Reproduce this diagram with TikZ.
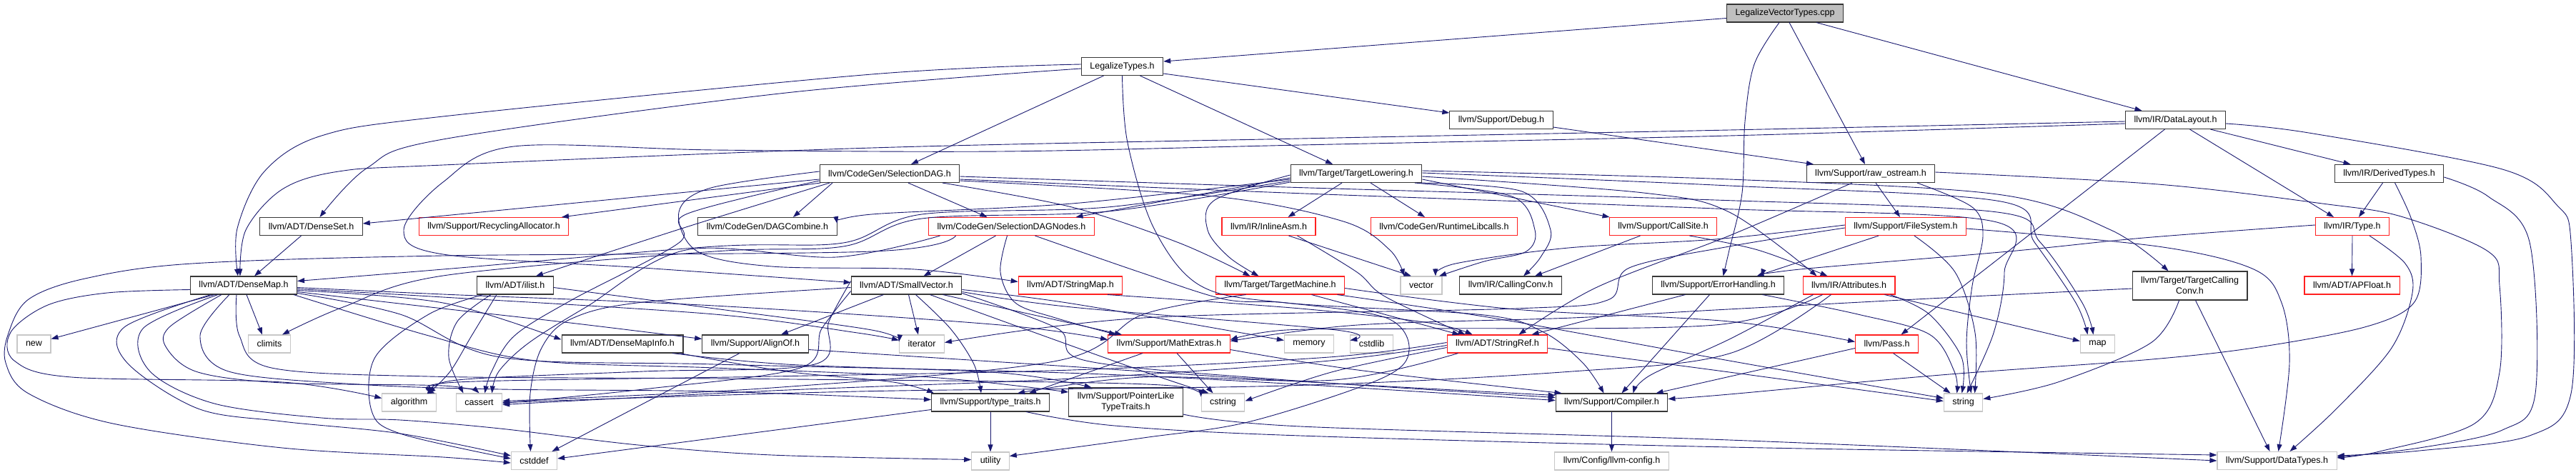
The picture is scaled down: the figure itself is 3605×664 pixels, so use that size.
\documentclass[tikz,border=0pt]{standalone}
\usepackage{fontspec}
\setmainfont{Liberation Sans}
\usetikzlibrary{arrows.meta}
\definecolor{edgeblue}{HTML}{191970}
\definecolor{nodered}{HTML}{FF2020}
\newcommand\fsz{\fontsize{12.5}{15}\selectfont}
\newcommand\cnx[1]{\draw[e] plot[smooth,tension=0.55] coordinates {#1};}
\tikzset{
 nd/.style={draw, rectangle, line width=1.1pt, minimum height=25pt, inner xsep=12pt, inner ysep=0pt, font=\fsz, anchor=center},
 blk/.style={nd, draw=black!78},
 rd/.style={nd, draw=nodered},
 sys/.style={nd, draw=black!22},
 cur/.style={nd, draw=black!80, fill=black!25},
 two/.style={align=center, minimum height=40pt},
 e/.style={draw=edgeblue, line width=0.9pt, -{Triangle[length=10pt,width=7pt]}},
}
\begin{document}
\begin{tikzpicture}[x=1pt,y=-1pt]
\fill[white] (0,0) rectangle (3605,664);
\useasboundingbox (0,0) rectangle (3605,664);
% nodes
\node[cur] (lvt) at (2498,18.5) {LegalizeVectorTypes.cpp};
\node[blk] (lt) at (1570.5,93) {LegalizeTypes.h};
\node[blk] (debug) at (2101,168) {llvm/Support/Debug.h};
\node[blk] (dl) at (3044.5,168) {llvm/IR/DataLayout.h};
\node[blk] (sdag) at (1245,243) {llvm/CodeGen/SelectionDAG.h};
\node[blk] (tl) at (1898,243) {llvm/Target/TargetLowering.h};
\node[blk] (ros) at (2618,243) {llvm/Support/raw\_ostream.h};
\node[blk] (dt) at (3343.5,243) {llvm/IR/DerivedTypes.h};
\node[blk] (dset) at (435.5,317) {llvm/ADT/DenseSet.h};
\node[rd] (ra) at (691,317) {llvm/Support/RecyclingAllocator.h};
\node[blk] (dagc) at (1074,317) {llvm/CodeGen/DAGCombine.h};
\node[rd] (sdn) at (1415.5,317) {llvm/CodeGen/SelectionDAGNodes.h};
\node[rd] (ia) at (1775.5,317) {llvm/IR/InlineAsm.h};
\node[rd] (rtl) at (2021,317) {llvm/CodeGen/RuntimeLibcalls.h};
\node[rd] (cs) at (2327.5,317) {llvm/Support/CallSite.h};
\node[rd] (fs) at (2667,317) {llvm/Support/FileSystem.h};
\node[rd] (type) at (3292,317) {llvm/IR/Type.h};
\node[blk] (dmap) at (341,399.5) {llvm/ADT/DenseMap.h};
\node[blk] (ilist) at (721,399.5) {llvm/ADT/ilist.h};
\node[blk] (sv) at (1268.5,399.5) {llvm/ADT/SmallVector.h};
\node[rd] (smap) at (1498,399.5) {llvm/ADT/StringMap.h};
\node[rd] (tm) at (1791.5,399.5) {llvm/Target/TargetMachine.h};
\node[sys] (vector) at (1989,399.5) {vector};
\node[blk] (cc) at (2114,399.5) {llvm/IR/CallingConv.h};
\node[blk] (eh) at (2404.5,399.5) {llvm/Support/ErrorHandling.h};
\node[rd] (attr) at (2587.5,399.5) {llvm/IR/Attributes.h};
\node[blk,two] (tcc) at (3064.5,400) {llvm/Target/TargetCalling\\Conv.h};
\node[rd] (apf) at (3291.5,399.5) {llvm/ADT/APFloat.h};
\node[sys] (new) at (47.5,481.5) {new};
\node[sys] (climits) at (377,481.5) {climits};
\node[blk] (dmi) at (871,481.5) {llvm/ADT/DenseMapInfo.h};
\node[blk] (align) at (1057,481.5) {llvm/Support/AlignOf.h};
\node[sys] (iterator) at (1290,481.5) {iterator};
\node[rd] (me) at (1636,481.5) {llvm/Support/MathExtras.h};
\node[sys] (memory) at (1832,481.5) {memory};
\node[sys] (cstdlib) at (1919.5,481.5) {cstdlib};
\node[rd] (sref) at (2095.5,481.5) {llvm/ADT/StringRef.h};
\node[rd] (pass) at (2640.5,481.5) {llvm/Pass.h};
\node[sys] (map) at (2935.5,481.5) {map};
\node[sys] (algorithm) at (572.5,563.5) {algorithm};
\node[sys] (cassert) at (670.5,563.5) {cassert};
\node[blk] (tt) at (1386,563.5) {llvm/Support/type\_traits.h};
\node[blk,two] (pltt) at (1575.5,563) {llvm/Support/PointerLike\\TypeTraits.h};
\node[sys] (cstring) at (1711.5,563.5) {cstring};
\node[blk] (comp) at (2255.5,563.5) {llvm/Support/Compiler.h};
\node[sys] (string) at (2747.5,563.5) {string};
\node[sys] (cstddef) at (747.5,645) {cstddef};
\node[sys] (utility) at (1386,645.5) {utility};
\node[sys] (cfg) at (2255.5,645.5) {llvm/Config/llvm-config.h};
\node[sys] (dtypes) at (3186.5,645) {llvm/Support/DataTypes.h};
% LegalizeVectorTypes.cpp
\draw[e] ([yshift=-7pt]lvt.west) -- ([yshift=7pt]lt.east);
\cnx{([xshift=-8pt]lvt.south) (2455,90) (2442,170) (2438,270) (2420,350) ([xshift=7pt]eh.north)}
\draw[e] ([xshift=6pt]lvt.south) -- ([xshift=-8pt]ros.north);
\draw[e] ([xshift=44pt]lvt.south) -- ([xshift=-47pt]dl.north);
% LegalizeTypes.h
\draw[e] ([xshift=-26pt]lt.south) -- ([xshift=30pt]sdag.north);
\draw[e] ([xshift=25pt]lt.south) -- ([xshift=-33pt]tl.north);
\draw[e] ([yshift=-10pt]lt.east) -- ([yshift=10pt]debug.west);
\cnx{([yshift=-3pt]lt.west) (1100,130) (620,195) (514,235) ([xshift=12pt]dset.north)}
\cnx{([yshift=3pt]lt.west) (1220,104) (620,163) (450,190) (370,240) (332,320) ([xshift=-8pt]dmap.north)}
\cnx{(lt.south) (1578,200) (1615,320) (1680,400) (1800,424) (2077,441) (2160,465) (2215,508) ([xshift=-11pt]comp.north)}
% Debug.h
\draw[e] ([yshift=-10pt]debug.east) -- ([xshift=-80pt]ros.north);
% DataLayout.h
\draw[e] ([xshift=49pt]dl.south) -- ([xshift=-54pt]dt.north);
\draw[e] ([xshift=20pt]dl.south) -- ([xshift=-26pt]type.north);
\draw[e] ([xshift=-15pt]dl.south) -- ([xshift=20pt]pass.north);
\cnx{([yshift=-5pt]dl.east) (3231,186) (3502,237) (3579,288) (3598,339) (3598,551) (3540,610) (3386,631) ([yshift=7pt]dtypes.east)}
\cnx{([yshift=-2pt]dl.west) (2420,182) (1820,194) (1220,207) (620,231) (474,240) (395,265) (344,322) ([xshift=-5pt]dmap.north)}
\cnx{([yshift=-5pt]dl.west) (2420,190) (1820,203) (1400,212) (1000,210) (719,205) (620,255) (565,322) (620,356) (900,375) ([yshift=4pt]sv.west)}
% SelectionDAG.h
\draw[e] ([yshift=-8pt]sdag.west) -- ([yshift=4pt]dset.east);
\draw[e] ([xshift=-97pt]sdag.south) -- ([xshift=95pt]ra.north);
\draw[e] ([xshift=-80pt]sdag.south) -- ([xshift=36pt]dagc.north);
\cnx{([xshift=-84pt]sdag.south) (960,318) ([xshift=29pt]ilist.north)}
\draw[e] ([xshift=26pt]sdag.south) -- ([xshift=-34pt]sdn.north);
\cnx{([xshift=74pt]sdag.south) (1500,290) (1650,340) ([xshift=-42pt]tm.north)}
\cnx{([yshift=3pt]sdag.west) (995,263) (950,297) (976,352) (1080,373) (1280,377) ([yshift=5pt]smap.west)}
\cnx{([yshift=-10pt]sdag.west) (960,300) (950,340) (800,420) (720,470) (688,520) ([xshift=8pt]cassert.north)}
\cnx{([yshift=-4pt]sdag.east) (1800,262) (2400,280) (2795,297) (2855,339) (2914,424) ([xshift=-6pt]map.north)}
\cnx{([yshift=-8pt]sdag.east) (1800,270) (2400,292) (2790,310) (2805,381) (2790,466) ([xshift=5pt]string.north)}
\cnx{([yshift=-10pt]sdag.east) (1700,275) (1880,310) (1945,350) ([xshift=-24pt]vector.north)}
% TargetLowering.h
\draw[e] ([xshift=-20pt]tl.south) -- ([xshift=27pt]ia.north);
\draw[e] ([xshift=20pt]tl.south) -- ([xshift=-27pt]rtl.north);
\draw[e] ([yshift=-8pt]tl.east) -- ([xshift=-75pt]cs.north);
\cnx{([xshift=82pt]tl.south) (2116,275) (2148,322) (2136,352) (2077,366) ([xshift=25pt]vector.north)}
\cnx{([xshift=90pt]tl.south) (2130,268) (2170,322) (2156,360) ([xshift=18pt]cc.north)}
\cnx{([yshift=4pt]tl.east) (2420,251) (2795,272) (2954,322) ([xshift=-30pt]tcc.north)}
\cnx{([yshift=1pt]tl.east) (2420,260) (2800,282) (2847,339) (2905,424) ([xshift=-14pt]map.north)}
\cnx{([yshift=-4pt]tl.east) (2300,270) (2420,297) ([xshift=-45pt]attr.north)}
\cnx{([yshift=-2pt]tl.west) (1700,280) (1690,322) (1720,360) ([xshift=-30pt]tm.north)}
\draw[e] ([yshift=-6pt]tl.west) -- ([xshift=90pt]sdn.north);
\cnx{([yshift=-8pt]tl.west) (1500,285) (1220,300) ([yshift=4pt]dagc.east)}
\cnx{([yshift=-10pt]tl.west) (1550,290) (1290,300) (1180,340) (1000,345) (620,377) ([yshift=6pt]dmap.east)}
\cnx{([yshift=-12pt]tl.west) (1550,296) (1290,306) (1180,345) (1000,352) (620,386) (480,430) ([xshift=18pt]climits.north)}
% raw_ostream.h
\draw[e] ([xshift=7pt]ros.south) -- ([xshift=-8pt]fs.north);
\cnx{([xshift=-26pt]ros.south) (2420,330) (2235,402) ([xshift=30pt]sref.north)}
\cnx{([xshift=65pt]ros.south) (2760,290) (2775,330) (2760,400) (2752,480) ([xshift=11pt]string.north)}
\cnx{([yshift=2pt]ros.east) (3020,258) (3250,285) (3360,303) (3482,352) (3498,400) (3498,521) (3463,593) (3330,632) ([yshift=4pt]dtypes.east)}
% DerivedTypes.h
\draw[e] ([xshift=-9pt]dt.south) -- ([xshift=9pt]type.north);
\cnx{([xshift=8pt]dt.south) (3374,305) (3388,360) (3378,424) (3309,458) (3154,487) (3000,504) (2716,525) (2420,552) ([yshift=5pt]comp.east)}
\cnx{([yshift=-5pt]dt.east) (3482,275) (3540,339) (3548,551) (3502,602) (3386,627) ([yshift=5pt]dtypes.east)}
% Type.h
\draw[e] (type.south) -- (apf.north);
\cnx{([xshift=24pt]type.south) (3366,369) (3376,410) (3347,487) (3270,572) ([xshift=18pt]dtypes.north)}
\cnx{([yshift=2pt]type.west) (3000,333) (2811,352) (2519,377) ([xshift=60pt]eh.north)}
% FileSystem.h
\cnx{([yshift=-3pt]fs.east) (3020,345) (3154,377) (3193,424) (3204,508) ([xshift=2pt]dtypes.north)}
\draw[e] ([xshift=-38pt]fs.south) -- ([xshift=54pt]eh.north);
\cnx{([xshift=12pt]fs.south) (2736,381) (2764,466) ([xshift=16pt]string.north)}
\cnx{([yshift=2pt]fs.west) (2400,335) (2195,347) (2037,369) ([xshift=20pt]vector.north)}
\cnx{([yshift=-2pt]fs.west) (2420,345) (2280,375) (2250,420) (2120,432) (1600,445) ([yshift=2pt]iterator.east)}
% CallSite.h
\draw[e] ([xshift=-32pt]cs.south) -- ([xshift=34pt]cc.north);
\cnx{([xshift=37pt]cs.south) (2460,350) ([xshift=-30pt]attr.north)}
% InlineAsm.h
\draw[e] ([xshift=28pt]ia.south) -- ([xshift=-14pt]vector.north);
\cnx{([xshift=40pt]ia.south) (1899,381) (1938,415) ([xshift=-45pt]sref.north)}
% TargetMachine.h
\draw[e] ([xshift=44pt]tm.south) -- ([xshift=-53pt]sref.north);
\cnx{([xshift=-48pt]tm.south) (1600,440) (1480,505) (1080,543) ([yshift=2pt]cassert.east)}
\cnx{([yshift=-4pt]tm.east) (2120,433) (2420,450) ([yshift=3pt]pass.west)}
\cnx{([xshift=80pt]tm.south) (2100,447) (2420,505) ([yshift=6pt]string.west)}
% StringMap.h
\cnx{([xshift=52pt]smap.south) (1820,432) (2000,452) ([xshift=-35pt]sref.north)}
% SelectionDAGNodes.h
\draw[e] ([xshift=-22pt]sdn.south) -- ([xshift=24pt]sv.north);
\cnx{([xshift=-6pt]sdn.south) (1400,381) (1421,424) (1477,445) ([xshift=-74pt]me.north)}
\cnx{([xshift=33pt]sdn.south) (1595,381) (1714,419) (1800,424) (1940,445) (1972,490) (1933,530) (1750,590) (1600,613) ([yshift=7pt]utility.east)}
\cnx{([xshift=-78pt]sdn.south) (1220,352) (620,358) (269,369) (119,390) (40,419) (12,466) (8,508) (40,551) (158,593) (395,627) (620,640) ([yshift=-3pt]cstddef.west)}
\cnx{([xshift=-100pt]sdn.south) (1170,360) (960,350) (820,430) (740,480) (698,520) ([xshift=18pt]cassert.north)}
% ilist.h
\cnx{([xshift=-26pt]ilist.south) (660,470) (630,520) ([xshift=27pt]algorithm.north)}
\cnx{([xshift=-34pt]ilist.south) (640,450) (628,500) ([xshift=-22pt]cassert.north)}
\cnx{([xshift=-45pt]ilist.south) (600,440) (525,500) (520,575) (560,607) ([yshift=3pt]cstddef.west)}
\cnx{([yshift=-3pt]ilist.east) (1000,432) (1220,462) ([yshift=3pt]iterator.west)}
% SmallVector.h
\draw[e] ([xshift=-32pt]sv.south) -- ([xshift=36pt]align.north);
\draw[e] ([xshift=3pt]sv.south) -- ([xshift=-5pt]iterator.north);
\cnx{([xshift=13pt]sv.south) (1330,460) (1363,510) ([xshift=-13pt]tt.north)}
\draw[e] ([xshift=51pt]sv.south) -- ([xshift=-66pt]me.north);
\cnx{([yshift=-6pt]sv.east) (1500,425) ([yshift=5pt]memory.west)}
\cnx{([yshift=-9pt]sv.east) (1500,430) (1870,462) ([yshift=5pt]cstdlib.west)}
\cnx{([xshift=33pt]sv.south) (1413,453) (1600,520) ([xshift=-20pt]cstring.north)}
\cnx{([yshift=-11pt]sv.east) (1480,460) (1520,505) (1800,532) ([yshift=7pt]comp.west)}
\cnx{([yshift=6pt]sv.west) (1160,450) (1140,510) (900,520) (640,532) ([xshift=32pt]algorithm.north)}
\cnx{([yshift=-8pt]sv.west) (1150,460) (1120,515) (900,545) ([yshift=-1pt]cassert.east)}
\cnx{([yshift=-3pt]sv.west) (900,423) (798,447) (758,487) (742,551) ([xshift=-5pt]cstddef.north)}
% DenseSet.h
\draw[e] ([xshift=-14pt]dset.south) -- ([xshift=15pt]dmap.north);
% DenseMap.h
\draw[e] ([xshift=-41pt]dmap.south) -- ([yshift=7pt]new.east);
\draw[e] ([xshift=4pt]dmap.south) -- ([xshift=-10pt]climits.north);
\cnx{([yshift=-6pt]dmap.west) (150,410) (67,427) (15,465) (20,505) (100,528) (395,535) ([yshift=6pt]algorithm.west)}
\cnx{([xshift=-31pt]dmap.south) (237,458) (233,487) (277,521) (395,536) (620,540) (cassert.north)}
\cnx{([xshift=-46pt]dmap.south) (174,458) (178,508) (277,572) (395,590) (560,607) ([yshift=7pt]cstddef.west)}
\cnx{([xshift=-36pt]dmap.south) (200,460) (210,520) (300,565) (450,585) (560,588) (700,600) (893,623) (1080,637) ([yshift=2pt]utility.west)}
\cnx{([yshift=-7pt]dmap.east) (620,424) ([yshift=6pt]dmi.west)}
\cnx{([yshift=-9pt]dmap.east) (620,432) (798,452) ([yshift=7pt]align.west)}
\cnx{([yshift=-5pt]dmap.east) (620,416) (1000,440) (1200,466) ([yshift=5pt]iterator.west)}
\cnx{([yshift=-3pt]dmap.east) (620,412) (1000,428) (1400,455) ([yshift=6pt]me.west)}
\cnx{([yshift=-11pt]dmap.east) (560,440) (700,500) (1000,510) (1490,522) (1800,537) ([yshift=3pt]comp.west)}
\cnx{([xshift=70pt]dmap.south) (600,470) (750,505) (1000,515) (1300,528) ([yshift=14pt]pltt.west)}
\cnx{([xshift=-20pt]dmap.south) (280,470) (320,520) (500,538) (700,545) (1000,548) ([yshift=4pt]tt.west)}
\cnx{([xshift=-10pt]dmap.south) (335,470) (380,515) (600,527) (1000,530) (1480,535) (1650,541) ([yshift=8pt]cstring.west)}
% DenseMapInfo.h
\cnx{([xshift=70pt]dmi.south) (1100,510) (1400,522) ([xshift=-48pt]pltt.north)}
\cnx{([xshift=80pt]dmi.south) (1100,520) (1250,535) ([xshift=-79pt]tt.north)}
% AlignOf.h
\draw[e] ([xshift=-22pt]align.south) -- ([xshift=25pt]cstddef.north);
\cnx{([yshift=-8pt]align.east) (1480,512) (1800,533) ([yshift=10pt]comp.west)}
% MathExtras.h
\draw[e] ([xshift=11pt]me.south) -- ([xshift=-14pt]cstring.north);
\draw[e] ([xshift=-37pt]me.south) -- ([xshift=54pt]tt.north);
\cnx{([yshift=-8pt]me.east) (1900,518) ([xshift=-70pt]comp.north)}
% type_traits.h
\draw[e] (tt.south) -- (utility.north);
\draw[e] ([yshift=-10pt]tt.west) -- ([yshift=3pt]cstddef.east);
\cnx{([xshift=50pt]tt.south) (1560,596) (1820,610) (2420,626) ([yshift=8pt]dtypes.west)}
% PointerLikeTypeTraits.h
\cnx{([yshift=-17pt]pltt.east) (1820,597) (2420,616) (dtypes.west)}
% StringRef.h
\cnx{([yshift=-6pt]sref.east) (2420,521) ([yshift=2pt]string.west)}
\cnx{([yshift=-5pt]sref.west) (1867,520) ([yshift=2pt]cstring.east)}
\cnx{([xshift=-55pt]sref.south) (1867,532) (1600,528) ([xshift=38pt]tt.north)}
\cnx{([yshift=-2pt]sref.west) (1850,506) (1500,530) (1080,547) ([yshift=-3pt]cassert.east)}
\cnx{([yshift=2pt]sref.west) (1860,500) (1500,518) (1080,527) (640,535) ([xshift=36pt]algorithm.north)}
% ErrorHandling.h
\draw[e] ([xshift=-46pt]eh.south) -- ([xshift=48pt]sref.north);
\draw[e] ([xshift=-12pt]eh.south) -- ([xshift=14pt]comp.north);
\cnx{([xshift=62pt]eh.south) (2600,440) (2700,468) (2735,520) ([xshift=-9pt]string.north)}
% Attributes.h
\draw[e] ([xshift=50pt]attr.south) -- ([yshift=4pt]map.west);
\cnx{([xshift=58pt]attr.south) (2700,440) (2745,500) ([xshift=-2pt]string.north)}
\cnx{([xshift=-37pt]attr.south) (2400,455) (2000,460) (1800,462) ([yshift=6pt]me.east)}
\cnx{([xshift=-25pt]attr.south) (2420,495) (2200,520) (1800,540) (1200,548) (cassert.east)}
\cnx{([xshift=-50pt]attr.south) (2420,475) (2310,525) ([xshift=30pt]comp.north)}
% Pass.h
\draw[e] ([yshift=-6pt]pass.west) -- ([xshift=62pt]comp.north);
\draw[e] ([xshift=9pt]pass.south) -- ([xshift=-18pt]string.north);
% TargetCallingConv.h
\draw[e] ([xshift=8pt]tcc.south) -- ([xshift=-10pt]dtypes.north);
\cnx{([xshift=-15pt]tcc.south) (3010,480) (2880,535) ([yshift=5pt]string.east)}
\cnx{([yshift=-4pt]tcc.west) (2700,418) (2400,434) (2200,445) (1900,455) ([yshift=4pt]me.east)}
% Compiler.h
\draw[e] (comp.south) -- (cfg.north);
\end{tikzpicture}
\end{document}
